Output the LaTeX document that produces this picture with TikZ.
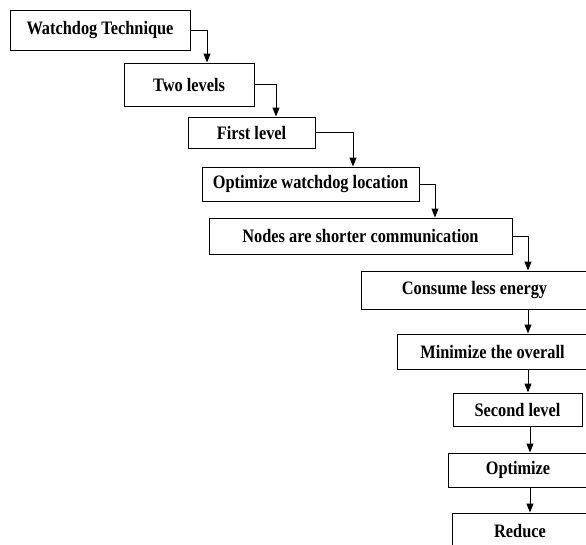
\documentclass[tikz,border=0pt]{standalone}
\usepackage{fontspec}
\setmainfont{Liberation Serif}[FakeStretch=0.86]
\usetikzlibrary{arrows.meta}
\tikzset{stepbox/.style={draw,line width=1pt,inner sep=0pt,font=\bfseries\fontsize{19}{21}\selectfont},
  link/.style={-{Triangle[width=7pt,length=9pt]},line width=1pt}}

\begin{document}
\begin{tikzpicture}[x=1pt,y=-1pt]
\useasboundingbox (0,0) rectangle (586,544);
\clip (0,0) rectangle (586,544);
      \node [stepbox,minimum width=180,minimum height=40] at (100,30) (wt) {Watchdog Technique};
       \node [stepbox,minimum width=130,minimum height=43] at (189,84.5) (tl) {Two levels};
        \node [stepbox,minimum width=127,minimum height=31] at (251.5,132.5) (fl) {First level};
         \node [stepbox,minimum width=217,minimum height=34] at (310.5,184) (owl) {Optimize watchdog location};
          \node [stepbox,minimum width=303,minimum height=36] at (360.5,236) (nsc) {Nodes are shorter communication};
           \node [stepbox,minimum width=227,minimum height=38] at (474.5,290) (cle) {Consume less energy};
            \node [stepbox,minimum width=191,minimum height=35] at (492.5,351.5) (mto) {Minimize the overall};
             \node [stepbox,minimum width=129,minimum height=33] at (517.5,409.5) (sl) {Second level};
              \node [stepbox,minimum width=140,minimum height=34] at (518,470) (opt) {Optimize};
               \node [stepbox,minimum width=136,minimum height=47,text depth=12pt] at (520,536.5) (red) {Reduce};
%
%
\draw[link] (wt.east) -| ([xshift=18]tl.north);
\draw[link] (tl.east) -| ([xshift=24.5]fl.north);
\draw[link] (fl.east) -| ([xshift=42.5]owl.north);
\draw[link] (owl.east) -| ([xshift=74.5]nsc.north);
\draw[link] (nsc.east) -| ([xshift=53.5]cle.north);
\draw[link] ([xshift=53.5]cle.south) -- ([xshift=53.5]cle.south |- mto.north);
\draw[link] ([xshift=35.5]mto.south) -- ([xshift=35.5]mto.south |- sl.north);
\draw[link] ([xshift=12.5]sl.south) -- ([xshift=12.5]sl.south |- opt.north);
\draw[link] ([xshift=12]opt.south) -- ([xshift=12]opt.south |- red.north);

\end{tikzpicture}
\end{document}
